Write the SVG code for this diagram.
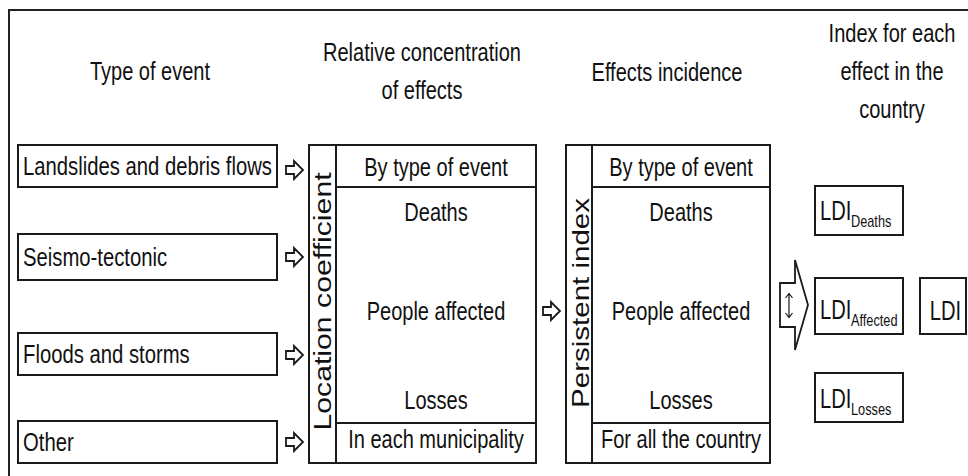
<svg xmlns="http://www.w3.org/2000/svg" width="968" height="476" viewBox="0 0 968 476">
<style>
.frame{fill:none;stroke:#222;stroke-width:2}
.box{fill:#fff;stroke:#1a1a1a;stroke-width:2}
.ln{stroke:#1a1a1a;stroke-width:2;fill:none}
.arr{fill:#fff;stroke:#1a1a1a;stroke-width:1.8;stroke-linejoin:miter}
.t{font-family:"Liberation Sans",Arial,sans-serif;font-size:26px;fill:#111}
.m{text-anchor:middle}
.r{font-size:24px}
.big{font-size:28px}
.sub{font-size:17px}
</style>
<defs>
<path id="sa" d="M0,-4 H8 V-9 L17,0 L8,9 V4 H0 Z"/>
</defs>
<rect width="968" height="476" fill="#fff"/>
<rect class="frame" x="9" y="10" width="1000" height="500"/>

<g id="headers">
<text class="t m" transform="translate(150,80) scale(0.77,1)">Type of event</text>
<text class="t m" transform="translate(422,61) scale(0.77,1)">Relative concentration</text>
<text class="t m" transform="translate(422,99) scale(0.77,1)">of effects</text>
<text class="t m" transform="translate(667,81) scale(0.77,1)">Effects incidence</text>
<text class="t m" transform="translate(892,42) scale(0.77,1)">Index for each</text>
<text class="t m" transform="translate(892,80) scale(0.77,1)">effect in the</text>
<text class="t m" transform="translate(892,118) scale(0.77,1)">country</text>
</g>

<g id="ev-landslides">
<rect class="box" x="18" y="145" width="259" height="42"/>
<text class="t" transform="translate(23,175) scale(0.78,1)">Landslides and debris flows</text>
</g>
<g id="ev-seismo">
<rect class="box" x="18" y="234" width="259" height="46"/>
<text class="t" transform="translate(23,266) scale(0.78,1)">Seismo-tectonic</text>
</g>
<g id="ev-floods">
<rect class="box" x="18" y="333" width="259" height="42"/>
<text class="t" transform="translate(23,363) scale(0.78,1)">Floods and storms</text>
</g>
<g id="ev-other">
<rect class="box" x="18" y="421" width="259" height="42"/>
<text class="t" transform="translate(23,451) scale(0.78,1)">Other</text>
</g>

<g id="concentration">
<rect class="box" x="309" y="145" width="227" height="318"/>
<line class="ln" x1="336" y1="145" x2="336" y2="463"/>
<line class="ln" x1="336" y1="187" x2="536" y2="187"/>
<line class="ln" x1="336" y1="423" x2="536" y2="423"/>
<text class="t m r" transform="translate(331,301.5) rotate(-90) scale(1.26,1)">Location coefficient</text>
<text class="t m" transform="translate(436,176) scale(0.77,1)">By type of event</text>
<text class="t m" transform="translate(436,221) scale(0.77,1)">Deaths</text>
<text class="t m" transform="translate(436,320) scale(0.77,1)">People affected</text>
<text class="t m" transform="translate(436,409) scale(0.77,1)">Losses</text>
<text class="t m" transform="translate(436,448) scale(0.77,1)">In each municipality</text>
</g>

<g id="incidence">
<rect class="box" x="566" y="145" width="204" height="318"/>
<line class="ln" x1="592" y1="145" x2="592" y2="463"/>
<line class="ln" x1="592" y1="187" x2="770" y2="187"/>
<line class="ln" x1="592" y1="423" x2="770" y2="423"/>
<text class="t m r" transform="translate(589,303) rotate(-90) scale(1.23,1)">Persistent index</text>
<text class="t m" transform="translate(681,176) scale(0.77,1)">By type of event</text>
<text class="t m" transform="translate(681,221) scale(0.77,1)">Deaths</text>
<text class="t m" transform="translate(681,320) scale(0.77,1)">People affected</text>
<text class="t m" transform="translate(681,409) scale(0.77,1)">Losses</text>
<text class="t m" transform="translate(681,448) scale(0.77,1)">For all the country</text>
</g>

<g id="ldi-deaths">
<rect class="box" x="815" y="186" width="88" height="49"/>
<text class="t big" transform="translate(820,220) scale(0.72,1)">LDI</text>
<text class="t sub" transform="translate(851,227) scale(0.75,1)">Deaths</text>
</g>
<g id="ldi-affected">
<rect class="box" x="815" y="278" width="88" height="56"/>
<text class="t big" transform="translate(820,319) scale(0.72,1)">LDI</text>
<text class="t sub" transform="translate(851,326) scale(0.75,1)">Affected</text>
</g>
<g id="ldi-losses">
<rect class="box" x="815" y="373" width="88" height="49"/>
<text class="t big" transform="translate(820,408) scale(0.72,1)">LDI</text>
<text class="t sub" transform="translate(851,415) scale(0.75,1)">Losses</text>
</g>
<g id="ldi">
<rect class="box" x="920" y="278" width="46" height="56"/>
<text class="t m big" transform="translate(945.5,320) scale(0.72,1)">LDI</text>
</g>

<g id="connectors">
<use href="#sa" class="arr" x="286" y="170"/>
<use href="#sa" class="arr" x="286" y="257"/>
<use href="#sa" class="arr" x="286" y="355"/>
<use href="#sa" class="arr" x="286" y="442"/>
<use href="#sa" class="arr" x="543" y="311"/>
<path class="arr" d="M780,283 H795 V260 L808,305 L795,350 V327 H780 Z"/>
<path d="M789,294 V317 M785.5,298 L789,293.5 L792.5,298 M785.5,313 L789,317.5 L792.5,313" fill="none" stroke="#1a1a1a" stroke-width="1.2"/>
</g>
</svg>
